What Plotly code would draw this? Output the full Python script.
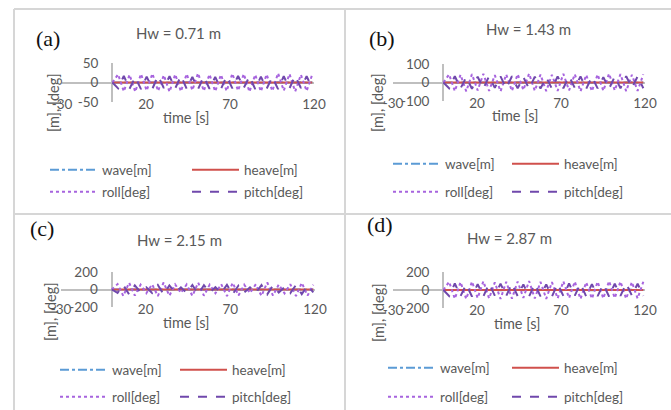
import plotly.graph_objects as go

W, H = 671, 410

# ---------------- data ----------------
time_s = [0, 3.4, 6.8, 10.2, 13.6, 17, 20.4, 23.8, 27.2, 30.6, 34, 37.4, 40.8, 44.2,
          47.6, 51, 54.4, 57.8, 61.2, 64.6, 68, 71.4, 74.8, 78.2, 81.6, 85, 88.4,
          91.8, 95.2, 98.6, 102, 105.4, 108.8, 112.2, 115.6, 119]

series_names = ["wave[m]", "heave[m]", "roll[deg]", "pitch[deg]"]
panel_labels = ["(a)", "(b)", "(c)", "(d)"]
panel_titles = ["Hw = 0.71 m", "Hw = 1.43 m", "Hw = 2.15 m", "Hw = 2.87 m"]

x_tickvals = [-30, 20, 70, 120]
x_ticktext = ["-30", "20", "70", "120"]
y_tickvals_a = [-50, 0, 50]
y_ticktext_a = ["-50", "0", "50"]
y_tickvals_b = [-100, 0, 100]
y_ticktext_b = ["-100", "0", "100"]
y_tickvals_cd = [-200, 0, 200]
y_ticktext_cd = ["-200", "0", "200"]

# panel (a)  Hw = 0.71 m
wave_a = [0, 0.35, -0.33, 0.36, -0.34, 0.32, -0.36, 0.35, -0.33, 0.34, -0.35, 0.36, -0.32, 0.35,
          -0.34, 0.33, -0.36, 0.34, -0.35, 0.36, -0.33, 0.34, -0.35, 0.32, -0.34, 0.36, -0.35,
          0.33, -0.34, 0.35, -0.36, 0.34, -0.33, 0.35, -0.34, 0.33]
heave_a = [0, -0.27, 0.25, -0.28, 0.26, -0.24, 0.27, -0.26, 0.25, -0.27, 0.28, -0.25, 0.26, -0.27,
           0.24, -0.26, 0.27, -0.25, 0.26, -0.28, 0.25, -0.26, 0.27, -0.24, 0.26, -0.27, 0.25,
           -0.26, 0.28, -0.25, 0.27, -0.26, 0.24, -0.27, 0.26, -0.25]
roll_a = [0, 21, -23, 20, -24, 22, -21, 23, -22, 19, -24, 21, -23, 22, -20, 24, -22, 21, -23, 20,
          -22, 23, -21, 22, -24, 20, -23, 21, -22, 24, -21, 22, -23, 20, -22, 21]
pitch_a = [0, -15, 17, -16, 14, -17, 15, -16, 17, -14, 16, -15, 17, -16, 14, -17, 15, -16, 14, -17,
           16, -15, 17, -14, 16, -17, 15, -16, 14, -17, 16, -15, 17, -14, 16, -15]

# panel (b)  Hw = 1.43 m
wave_b = [0, 0.71, -0.68, 0.72, -0.70, 0.66, -0.72, 0.70, -0.67, 0.69, -0.71, 0.72, -0.66, 0.70,
          -0.69, 0.68, -0.72, 0.69, -0.70, 0.72, -0.67, 0.68, -0.71, 0.66, -0.69, 0.72, -0.70,
          0.67, -0.68, 0.71, -0.72, 0.69, -0.67, 0.70, -0.68, 0.67]
heave_b = [0, -0.55, 0.52, -0.56, 0.53, -0.50, 0.55, -0.53, 0.51, -0.55, 0.56, -0.52, 0.53, -0.55,
           0.50, -0.53, 0.55, -0.52, 0.53, -0.56, 0.51, -0.53, 0.55, -0.50, 0.53, -0.55, 0.52,
           -0.53, 0.56, -0.52, 0.55, -0.53, 0.50, -0.55, 0.53, -0.52]
roll_b = [0, 44, -47, 42, -48, 45, -43, 47, -45, 40, -48, 44, -46, 45, -41, 48, -45, 43, -47, 42,
          -45, 47, -43, 45, -48, 41, -47, 44, -45, 48, -43, 45, -47, 42, -45, 44]
pitch_b = [0, -31, 34, -32, 29, -34, 31, -33, 34, -29, 33, -31, 34, -32, 29, -34, 31, -33, 29, -34,
           33, -31, 34, -29, 33, -34, 31, -32, 29, -34, 33, -31, 34, -29, 33, -31]

# panel (c)  Hw = 2.15 m
wave_c = [0, 1.07, -1.02, 1.08, -1.05, 0.99, -1.08, 1.06, -1.01, 1.04, -1.07, 1.08, -0.99, 1.06,
          -1.04, 1.02, -1.08, 1.04, -1.06, 1.08, -1.01, 1.03, -1.07, 0.99, -1.04, 1.08, -1.06,
          1.01, -1.03, 1.07, -1.08, 1.04, -1.01, 1.06, -1.03, 1.01]
heave_c = [0, -0.84, 0.80, -0.86, 0.82, -0.78, 0.85, -0.82, 0.79, -0.84, 0.86, -0.80, 0.82, -0.84,
           0.78, -0.82, 0.85, -0.80, 0.82, -0.86, 0.79, -0.82, 0.84, -0.78, 0.82, -0.85, 0.80,
           -0.82, 0.86, -0.80, 0.84, -0.82, 0.78, -0.84, 0.82, -0.80]
roll_c = [0, 62, -74, 78, -70, 55, -42, 60, -75, 80, -72, 58, -40, 57, -73, 79, -71, 56, -43, 61,
          -76, 78, -69, 54, -41, 59, -74, 80, -70, 57, -44, 60, -75, 77, -70, 55]
pitch_c = [0, -38, 50, -55, 47, -33, 25, -40, 52, -56, 46, -35, 24, -38, 51, -55, 48, -34, 26, -40,
           53, -54, 45, -33, 25, -39, 51, -56, 47, -35, 26, -41, 52, -53, 46, -34]

# panel (d)  Hw = 2.87 m
wave_d = [0, 1.43, -1.37, 1.45, -1.40, 1.33, -1.45, 1.42, -1.36, 1.40, -1.43, 1.45, -1.33, 1.42,
          -1.40, 1.37, -1.45, 1.40, -1.42, 1.45, -1.36, 1.38, -1.43, 1.33, -1.40, 1.45, -1.42,
          1.36, -1.38, 1.43, -1.45, 1.40, -1.36, 1.42, -1.38, 1.36]
heave_d = [0, -1.12, 1.07, -1.15, 1.09, -1.04, 1.13, -1.09, 1.05, -1.12, 1.15, -1.07, 1.09, -1.12,
           1.04, -1.09, 1.13, -1.07, 1.09, -1.15, 1.05, -1.09, 1.12, -1.04, 1.09, -1.13, 1.07,
           -1.09, 1.15, -1.07, 1.12, -1.09, 1.04, -1.12, 1.09, -1.07]
roll_d = [0, 92, -98, 88, -100, 94, -90, 97, -93, 85, -99, 92, -96, 94, -87, 100, -94, 90, -98, 88,
          -94, 97, -90, 94, -100, 86, -97, 92, -94, 100, -90, 94, -97, 88, -94, 92]
pitch_d = [0, -66, 72, -68, 63, -72, 66, -70, 72, -63, 70, -66, 72, -68, 63, -72, 66, -70, 63, -72,
           70, -66, 72, -63, 70, -72, 66, -68, 63, -72, 70, -66, 72, -63, 70, -66]

panel_series = [
    [wave_a, heave_a, roll_a, pitch_a],
    [wave_b, heave_b, roll_b, pitch_b],
    [wave_c, heave_c, roll_c, pitch_c],
    [wave_d, heave_d, roll_d, pitch_d],
]
panel_yticks = [(y_tickvals_a, y_ticktext_a), (y_tickvals_b, y_ticktext_b),
                (y_tickvals_cd, y_ticktext_cd), (y_tickvals_cd, y_ticktext_cd)]

# ---------------- styling / layout ----------------
colors = ["#5B9BD5", "#D0504C", "#A764DE", "#7048AC"]
dashes = ["dashdot", "solid", "dot", "dash"]

FONT = "Lato"
GREY = "#595959"
AXIS_GREY = "#BFBFBF"
ITEMW = 47


def px(x, y):
    return x / W, 1 - y / H


# pixel geometry for each panel: x-domain, y-domain(top,bottom), label, title, xtitle, ytitle,
# legend (line start x, row1 y, row2 y, entry offset)
geom = [
    dict(xd=(62, 314), yd=(63, 102), lab=(48, 39), ttl=(178, 33), xt=(187, 117), yt=(53, 103),
         leg=(55, 170, 192, 142)),
    dict(xd=(393, 645), yd=(64, 101), lab=(382, 39), ttl=(528, 29), xt=(515, 115), yt=(377, 103),
         leg=(398, 164, 192, 119)),
    dict(xd=(61, 315), yd=(272, 307), lab=(42, 228), ttl=(179, 240), xt=(187, 322), yt=(50, 312),
         leg=(65, 370, 397, 120)),
    dict(xd=(393, 645), yd=(272, 308), lab=(380, 224), ttl=(510, 238), xt=(517, 323), yt=(378, 312),
         leg=(393, 368, 397, 124)),
]

fig = go.Figure()
layout = dict(
    width=W, height=H, margin=dict(l=0, r=0, t=0, b=0, autoexpand=False),
    paper_bgcolor="white", plot_bgcolor="rgba(0,0,0,0)",
    font=dict(family=FONT, color=GREY, size=13),
    annotations=[], shapes=[],
)

legend_index = 1
for i in range(4):
    g = geom[i]
    xs = "" if i == 0 else str(i + 1)
    xa, ya = "x" + xs, "y" + xs
    x0, x1 = g["xd"][0] / W, g["xd"][1] / W
    ytop, ybot = 1 - g["yd"][0] / H, 1 - g["yd"][1] / H
    zero_x = x0 + (x1 - x0) * (30 / 150)

    row_legends = []
    for r in range(2):
        name = "legend" if legend_index == 1 else "legend" + str(legend_index)
        row_legends.append(name)
        lx, ly = px(g["leg"][0] - 10, g["leg"][1 + r])
        layout[name] = dict(
            x=lx, y=ly, xanchor="left", yanchor="middle", orientation="h",
            entrywidth=g["leg"][3] - (ITEMW + 15), entrywidthmode="pixels",
            font=dict(family=FONT, size=13.5, color=GREY),
            bgcolor="rgba(0,0,0,0)", borderwidth=0, itemwidth=ITEMW,
        )
        legend_index += 1

    for k in range(4):
        fig.add_trace(go.Scatter(
            x=time_s, y=panel_series[i][k], mode="lines", name=series_names[k],
            line=dict(color=colors[k], dash=dashes[k], width=2),
            xaxis=xa, yaxis=ya, legend=row_legends[k // 2], showlegend=True,
            hoverinfo="skip",
        ))

    tv, tt = panel_yticks[i]
    layout["xaxis" + xs] = dict(
        domain=[x0, x1], range=[-30, 120], anchor=ya,
        tickvals=x_tickvals, ticktext=x_ticktext, showgrid=False,
        showline=False, ticks="", zeroline=True, zerolinecolor=AXIS_GREY, zerolinewidth=1.5,
        tickfont=dict(family=FONT, size=13.5, color=GREY), ticklabelstandoff=-8,
    )
    layout["yaxis" + xs] = dict(
        domain=[ybot, ytop], range=[tv[0], tv[-1]], anchor="free", position=zero_x,
        tickvals=tv, ticktext=tt, showgrid=False, showline=False, ticks="",
        zeroline=True, zerolinecolor=AXIS_GREY, zerolinewidth=1.5,
        tickfont=dict(family=FONT, size=13.5, color=GREY), ticklabelstandoff=14,
    )

    ax, ay = px(*g["lab"])
    layout["annotations"].append(dict(
        x=ax, y=ay, xref="paper", yref="paper", text=panel_labels[i], showarrow=False,
        font=dict(family="Liberation Serif", size=22, color="#111111"),
        xanchor="center", yanchor="middle"))
    ax, ay = px(*g["ttl"])
    layout["annotations"].append(dict(
        x=ax, y=ay, xref="paper", yref="paper", text=panel_titles[i], showarrow=False,
        font=dict(family=FONT, size=15, color=GREY), xanchor="center", yanchor="middle"))
    ax, ay = px(*g["xt"])
    layout["annotations"].append(dict(
        x=ax, y=ay, xref="paper", yref="paper", text="time [s]", showarrow=False,
        font=dict(family=FONT, size=14.5, color=GREY), xanchor="center", yanchor="middle"))
    ax, ay = px(*g["yt"])
    layout["annotations"].append(dict(
        x=ax, y=ay, xref="paper", yref="paper", text="[m], [deg]", showarrow=False,
        textangle=-90, font=dict(family=FONT, size=14.5, color=GREY),
        xanchor="center", yanchor="middle"))

# panel frame lines
BORDER = "#D6D6D6"
for (xa0, ya0, xa1, ya1) in [(14, 9, 14, 410), (345, 9, 345, 410), (14, 9, 671, 9), (14, 214, 671, 214)]:
    p0 = px(xa0, ya0)
    p1 = px(xa1, ya1)
    layout["shapes"].append(dict(type="line", xref="paper", yref="paper",
                                 x0=p0[0], y0=p0[1], x1=p1[0], y1=p1[1],
                                 line=dict(color=BORDER, width=2)))

fig.update_layout(**layout)
fig.write_html("out.html", config={"displayModeBar": False},
               post_script="document.body.style.margin='0';document.body.style.overflow='hidden';")
